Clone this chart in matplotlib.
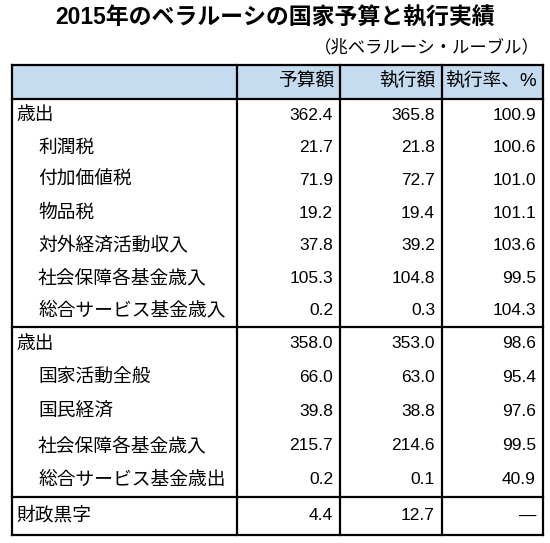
import matplotlib
matplotlib.use("Agg")
import matplotlib.pyplot as plt
from matplotlib.patches import Rectangle

title = "2015年のベラルーシの国家予算と執行実績"
unit = "（兆ベラルーシ・ルーブル）"
headers = ["予算額", "執行額", "執行率、%"]
labels = ["歳出", "利潤税", "付加価値税", "物品税", "対外経済活動収入", "社会保障各基金歳入", "総合サービス基金歳入",
          "歳出", "国家活動全般", "国民経済", "社会保障各基金歳入", "総合サービス基金歳出", "財政黒字"]
indent = [0, 1, 1, 1, 1, 1, 1, 0, 1, 1, 1, 1, 0]
budget = ["362.4", "21.7", "71.9", "19.2", "37.8", "105.3", "0.2", "358.0", "66.0", "39.8", "215.7", "0.2", "4.4"]
actual = ["365.8", "21.8", "72.7", "19.4", "39.2", "104.8", "0.3", "353.0", "63.0", "38.8", "214.6", "0.1", "12.7"]
rate = ["100.9", "100.6", "101.0", "101.1", "103.6", "99.5", "104.3", "98.6", "95.4", "97.6", "99.5", "40.9", "―"]
sections = [7, 5, 1]

fam = ["Liberation Sans", "Noto Sans CJK JP", "DejaVu Sans"]
fig = plt.figure(figsize=(5.5, 5.43), dpi=100)
ax = fig.add_axes([0, 0, 1, 1])
ax.set_xlim(0, 550); ax.set_ylim(543, 0); ax.axis("off")

L, R = 12, 543
cols = [L, 237, 340, 442, R]
top, hb = 65, 99
bounds = [hb, 327, 497, 535]

ax.text(275, 18, title, ha="center", va="center", fontsize=16.5, fontweight="bold", family=fam)
ax.text(540, 47, unit, ha="right", va="center", fontsize=12.5, family=fam)

ax.add_patch(Rectangle((L, top), R - L, hb - top, facecolor="#c5dbf0", edgecolor="none"))
for j, h in enumerate(headers):
    ax.text(cols[j + 2] - 6, (top + hb) / 2, h, ha="right", va="center", fontsize=13.5, family=fam)

i = 0
for s, n in enumerate(sections):
    y0, y1 = bounds[s], bounds[s + 1]
    rh = (y1 - y0) / n
    for k in range(n):
        yc = y0 + rh * (k + 0.5)
        ax.text(L + 4 + 22 * indent[i], yc, labels[i], ha="left", va="center", fontsize=13.5, family=fam)
        for j, v in enumerate([budget[i], actual[i], rate[i]]):
            ax.text(cols[j + 2] - 7, yc, v, ha="right", va="center", fontsize=12.5, family=fam)
        i += 1

lw = 1.6
for x in cols:
    ax.plot([x, x], [top, bounds[-1]], color="black", lw=lw, solid_capstyle="projecting")
for y in [top, hb] + bounds[1:]:
    ax.plot([L, R], [y, y], color="black", lw=lw, solid_capstyle="projecting")

fig.savefig("out.png", dpi=100)
